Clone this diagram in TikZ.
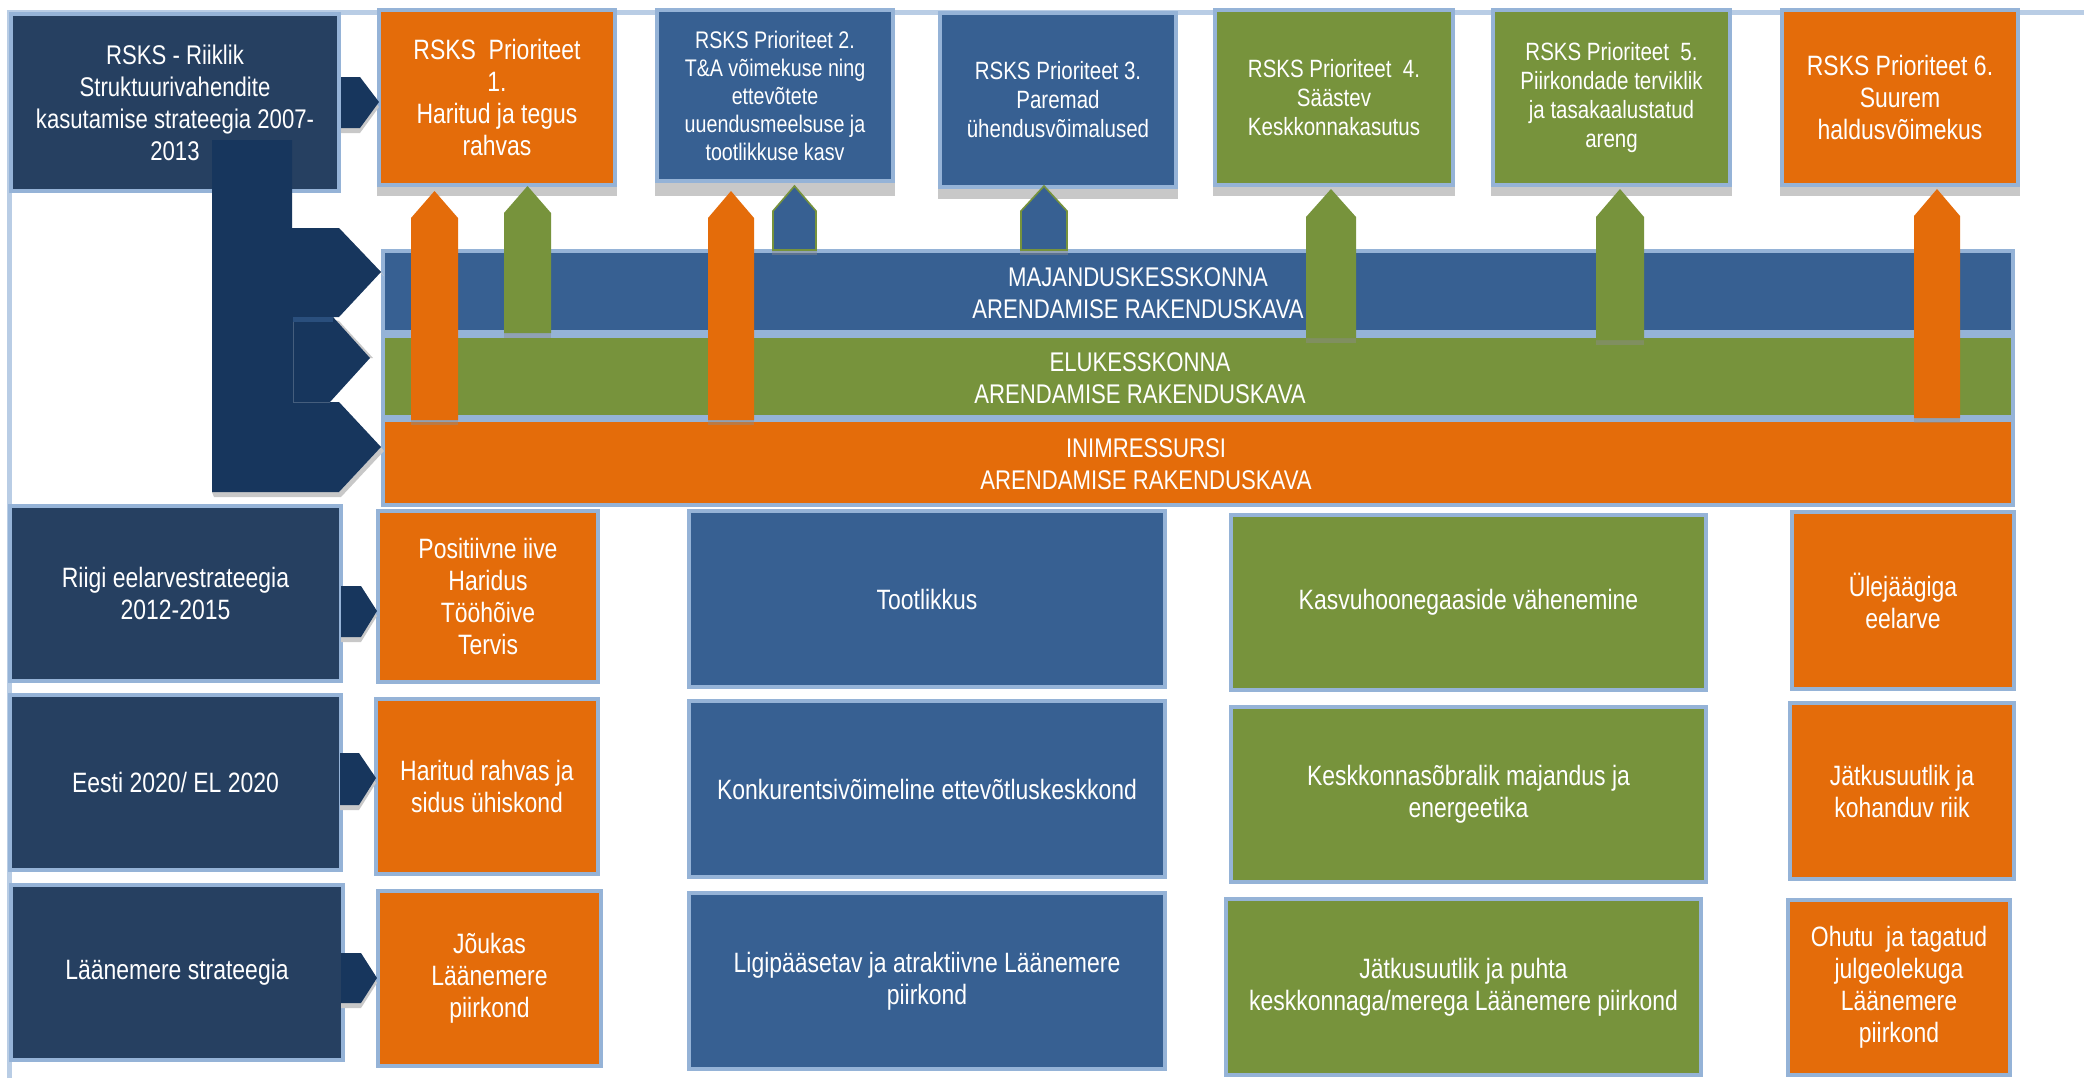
\documentclass[tikz,border=0pt]{standalone}
\usepackage{fontspec}
\setmainfont[FakeStretch=0.82]{Liberation Sans}
\definecolor{cNavy}{RGB}{38,64,97}
\definecolor{cBrace}{RGB}{23,54,93}
\definecolor{cBlue}{RGB}{55,96,146}
\definecolor{cOr}{RGB}{228,108,10}
\definecolor{cGr}{RGB}{119,147,60}
\definecolor{cBd}{RGB}{149,179,215}
\definecolor{cFrame}{RGB}{185,205,229}
\definecolor{cSh}{RGB}{200,200,200}
\newcommand\fsA{\fontsize{14}{16}\selectfont}
\newcommand\fsR{\fontsize{13.5}{16}\selectfont}
\newcommand\fsB{\fontsize{12}{14}\selectfont}
\newcommand\fsC{\fontsize{12.5}{14.5}\selectfont}
\newcommand\fsD{\fontsize{14}{16.3}\selectfont}
\tikzset{
  bxline/.style={draw=cBd, line width=2pt},
  txt/.style={inner sep=0pt, align=center, text=white, font=\fsA},
  bandtxt/.style={align=center, text=white, font=\fsR, inner sep=0pt},
  shadowfill/.style={fill=cSh},
  chev/.style={fill=cBrace},
  arrsh/.style={fill=black!45, opacity=0.45},
}
% name, x1, y1, x2, y2 (outer edges, px), fill, text options, text
\newcommand\boxat[8]{%
  \draw[bxline, fill=#6] (#2+2,#3+2) rectangle (#4-2,#5-2);
  \node[txt,#7] (#1) at ({(#2+#4)/2},{(#3+#5)/2}) {#8};
}
\begin{document}
\begin{tikzpicture}[x=0.5pt,y=-0.5pt]
\useasboundingbox (0,0) rectangle (2084,1078);
\fill[white] (0,0) rectangle (2084,1078);
% frame lines
\draw[cFrame, line width=2.5pt] (9,1078) -- (9,12) -- (2084,12);

% ---------- top row ----------
\boxat{rsks}{9}{12}{341}{193}{cNavy}{font=\fsR}{RSKS - Riiklik\\Struktuurivahendite\\kasutamise strateegia 2007-\\2013}

\fill[shadowfill] (377,18) rectangle (617,196);
\boxat{p1}{377}{8}{617}{187}{cOr}{}{RSKS\ \ Prioriteet\\1.\\Haritud ja tegus\\rahvas}

\fill[shadowfill] (655,18) rectangle (895,196);
\boxat{p2}{655}{8}{895}{183}{cBlue}{font=\fsB}{RSKS Prioriteet 2.\\T\&A võimekuse ning\\ettevõtete\\uuendusmeelsuse ja\\tootlikkuse kasv}

\fill[shadowfill] (938,21) rectangle (1178,199);
\boxat{p3}{938}{11}{1178}{189}{cBlue}{font=\fsC}{RSKS Prioriteet 3.\\Paremad\\ühendusvõimalused}

\fill[shadowfill] (1213,18) rectangle (1455,196);
\boxat{p4}{1213}{8}{1455}{187}{cGr}{font=\fsC}{RSKS Prioriteet\ \ 4.\\Säästev\\Keskkonnakasutus}

\fill[shadowfill] (1491,18) rectangle (1732,196);
\boxat{p5}{1491}{8}{1732}{187}{cGr}{font=\fsC}{RSKS Prioriteet\ \ 5.\\Piirkondade terviklik\\ja tasakaalustatud\\areng}

\fill[shadowfill] (1780,18) rectangle (2020,196);
\boxat{p6}{1780}{8}{2020}{187}{cOr}{}{RSKS Prioriteet 6.\\Suurem\\haldusvõimekus}

% small chevron top
\fill[shadowfill] (341,82) -- (360,82) -- (379,107) -- (360,133) -- (341,133) -- cycle;
\fill[chev] (341,77) -- (360,77) -- (379,102) -- (360,128) -- (341,128) -- cycle;

% ---------- bands ----------
\draw[bxline, fill=cBlue] (383,251) rectangle (2013,332);
\draw[bxline, fill=cGr] (383,336) rectangle (2013,417);
\draw[bxline, fill=cOr] (383,420) rectangle (2013,505);
\node[bandtxt] (tM) at (1138,293) {MAJANDUSKESSKONNA\\ARENDAMISE RAKENDUSKAVA};
\node[bandtxt] (tE) at (1140,378) {ELUKESSKONNA\\ARENDAMISE RAKENDUSKAVA};
\node[bandtxt] (tI) at (1146,464) {INIMRESSURSI\\ARENDAMISE RAKENDUSKAVA};

% ---------- brace ----------
\fill[shadowfill] (214,497) -- (341,497) -- (384,451) -- (381,447) -- (339,492) -- (212,492) -- cycle;
\fill[shadowfill] (339,321) -- (373,358) -- (370,358) -- (335,320) -- cycle;
\fill[shadowfill] (339,233) -- (384,276) -- (381,272) -- (339,228) -- cycle;
\fill[chev] (212,140) -- (292,140) -- (292,228) -- (339,228) -- (381,272) -- (339,317)
  -- (333,317) -- (370,358) -- (330,402) -- (339,402) -- (381,447) -- (339,492)
  -- (212,492) -- cycle;
\fill[cBlue!60!cBrace] (293,317) rectangle (333,322);
\draw[cBrace!80!white, line width=0.4pt] (293,322) -- (293,402) -- (330,402);

% ---------- upward arrows ----------
\fill[arrsh] (411,420) rectangle (458,425);
\fill[cOr] (411,420) -- (411,218) -- (434.5,191) -- (458,218) -- (458,420) -- cycle;
\fill[arrsh] (504,333) rectangle (551,338);
\fill[cGr] (504,333) -- (504,213) -- (527.5,186) -- (551,213) -- (551,333) -- cycle;
\fill[arrsh] (708,420) rectangle (754,425);
\fill[cOr] (708,420) -- (708,218) -- (731,191) -- (754,218) -- (754,420) -- cycle;
\fill[arrsh] (772,250) rectangle (817,255);
\filldraw[fill=cBlue, draw=cGr, line width=0.8pt] (773,250) -- (773,211) -- (794.5,186) -- (816,211) -- (816,250) -- cycle;
\fill[arrsh] (1020,250) rectangle (1068,255);
\filldraw[fill=cBlue, draw=cGr, line width=0.8pt] (1021,250) -- (1021,211) -- (1044,186) -- (1067,211) -- (1067,250) -- cycle;
\fill[arrsh] (1306,338) rectangle (1356,343);
\fill[cGr] (1306,338) -- (1306,217) -- (1331,189) -- (1356,217) -- (1356,338) -- cycle;
\fill[arrsh] (1596,340) rectangle (1644,345);
\fill[cGr] (1596,340) -- (1596,217) -- (1620,189) -- (1644,217) -- (1644,340) -- cycle;
\fill[arrsh] (1914,418) rectangle (1960,423);
\fill[cOr] (1914,418) -- (1914,216) -- (1937,189) -- (1960,216) -- (1960,418) -- cycle;

% ---------- bottom rows ----------
\boxat{riigi}{8}{504}{343}{683}{cNavy}{font=\fsD}{Riigi eelarvestrateegia\\2012-2015}
\boxat{pos}{376}{509}{600}{684}{cOr}{}{Positiivne iive\\Haridus\\Tööhõive\\Tervis}
\boxat{toot}{687}{509}{1167}{689}{cBlue}{}{Tootlikkus}
\boxat{kasv}{1229}{513}{1708}{692}{cGr}{}{Kasvuhoonegaaside vähenemine}
\boxat{ulej}{1790}{510}{2016}{691}{cOr}{}{Ülejäägiga\\eelarve}

\boxat{eesti}{8}{693}{343}{872}{cNavy}{font=\fsD}{Eesti 2020/ EL 2020}
\boxat{harit}{374}{697}{600}{876}{cOr}{}{Haritud rahvas ja\\sidus ühiskond}
\boxat{konk}{687}{699}{1167}{879}{cBlue}{}{Konkurentsivõimeline ettevõtluskeskkond}
\boxat{kesk}{1229}{705}{1708}{884}{cGr}{}{Keskkonnasõbralik majandus ja\\energeetika}
\boxat{jatk}{1788}{701}{2016}{881}{cOr}{}{Jätkusuutlik ja\\kohanduv riik}

\boxat{laane}{9}{883}{345}{1062}{cNavy}{font=\fsD}{Läänemere strateegia}
\boxat{jouk}{376}{889}{603}{1068}{cOr}{}{Jõukas\\Läänemere\\piirkond}
\boxat{ligi}{687}{891}{1167}{1071}{cBlue}{}{Ligipääsetav ja atraktiivne Läänemere\\piirkond}
\boxat{puhta}{1224}{897}{1703}{1077}{cGr}{}{Jätkusuutlik ja puhta\\keskkonnaga/merega Läänemere piirkond}
\boxat{ohutu}{1786}{898}{2012}{1077}{cOr}{}{Ohutu\ \ ja tagatud\\julgeolekuga\\Läänemere\\piirkond}

% bottom chevrons
\fill[shadowfill] (341,591) -- (361,591) -- (377,616) -- (361,642) -- (341,642) -- cycle;
\fill[chev] (341,586) -- (361,586) -- (377,611) -- (361,637) -- (341,637) -- cycle;
\fill[shadowfill] (340,758) -- (359,758) -- (376,783) -- (359,810) -- (340,810) -- cycle;
\fill[chev] (340,753) -- (359,753) -- (376,778) -- (359,805) -- (340,805) -- cycle;
\fill[shadowfill] (341,958) -- (361,958) -- (377,983) -- (361,1008) -- (341,1008) -- cycle;
\fill[chev] (341,953) -- (361,953) -- (377,978) -- (361,1003) -- (341,1003) -- cycle;
\end{tikzpicture}
\end{document}
